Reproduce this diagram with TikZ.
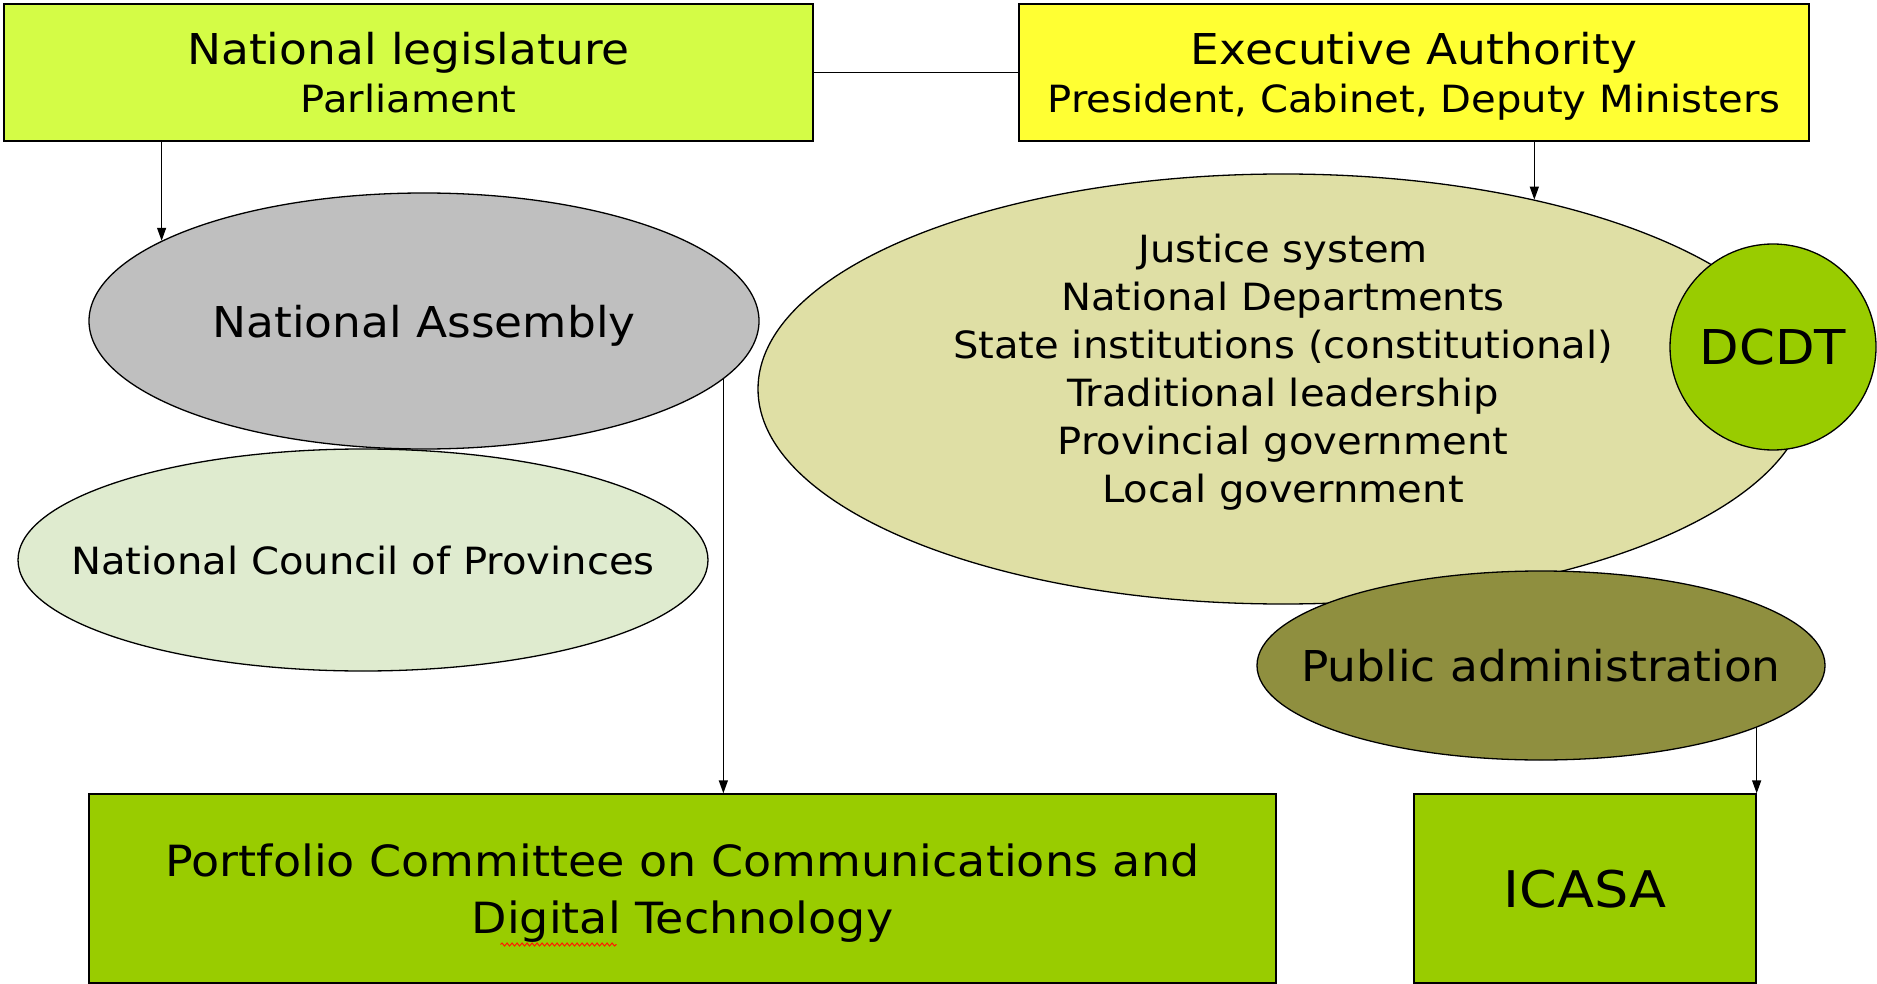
\documentclass[tikz,border=0pt]{standalone}
\usepackage{fontspec}
\setmainfont[FakeStretch=1.07]{DejaVu Sans}
\usetikzlibrary{arrows.meta,shapes.geometric,decorations.pathmorphing}

\definecolor{legislime}{HTML}{D4FC46}
\definecolor{execyellow}{HTML}{FFFF33}
\definecolor{assemblygrey}{HTML}{BFBFBF}
\definecolor{councilgreen}{HTML}{DFEBCF}
\definecolor{statekhaki}{HTML}{DFDFA5}
\definecolor{adminolive}{HTML}{8F8F3F}
\definecolor{bodygreen}{HTML}{99CC00}

\begin{document}
\begin{tikzpicture}[
  x=1pt, y=-1pt,
  box/.style={draw=black, line width=1.3pt, align=center, inner sep=0pt, text depth=0pt},
  blob/.style={ellipse, draw=black, line width=1.3pt, align=center,
               inner xsep=-160pt, inner ysep=0pt, text depth=0pt},
  arrow/.style={-{Triangle[length=13pt,width=9pt]}, line width=1.3pt}
]
  \useasboundingbox (0,0) rectangle (1877,984);

  % top row: the two branches of government
  \node[box, fill=legislime, minimum width=809pt, minimum height=137pt,
        font=\fontsize{42.5}{48}\selectfont] (legis) at (408.5,72.5)
    {National legislature\\{\fontsize{37.5}{48}\selectfont Parliament}};
  \node[box, fill=execyellow, minimum width=790pt, minimum height=137pt,
        font=\fontsize{42.5}{48}\selectfont] (exec) at (1414,72.5)
    {Executive Authority\\{\fontsize{37.5}{48}\selectfont President, Cabinet, Deputy Ministers}};
  \draw[line width=1.3pt] (legis) -- (exec);

  % parliament houses
  \node[blob, fill=assemblygrey, minimum width=670pt, minimum height=256pt,
        font=\fontsize{42.5}{48}\selectfont] (assembly) at (424,321) {National Assembly};
  \node[blob, fill=councilgreen, minimum width=690pt, minimum height=222pt,
        font=\fontsize{37.5}{48}\selectfont] (council) at (363,560) {National Council of Provinces};

  % executive side
  \node[blob, fill=statekhaki, minimum width=1050pt, minimum height=430pt] (state) at (1283,389) {};
  \node[align=center, text depth=0pt, font=\fontsize{37.5}{48}\selectfont] (statelist)
    at ([yshift=21pt]state.center)
    {Justice system\\National Departments\\State institutions (constitutional)\\
     Traditional leadership\\Provincial government\\Local government};
  \node[blob, circle, fill=bodygreen, minimum size=206pt,
        font=\fontsize{48}{56}\selectfont] (dcdt) at (1773,347) {DCDT};
  \node[blob, fill=adminolive, minimum width=568pt, minimum height=189pt,
        font=\fontsize{42.5}{48}\selectfont] (admin) at (1541,665.5) {Public administration};

  % bottom row
  \node[box, fill=bodygreen, minimum width=1187pt, minimum height=189pt,
        font=\fontsize{43}{57}\selectfont] (portfolio) at (682.5,888.5)
    {Portfolio Committee on Communications and\\Digital Technology};
  \node[box, fill=bodygreen, minimum width=342pt, minimum height=189pt,
        font=\fontsize{50.5}{56}\selectfont] (icasa) at (1585,888.5) {ICASA};

  % spell-check squiggle under "igital"
  \draw[red!80!orange, line width=1pt, decorate,
        decoration={snake, amplitude=1.5pt, segment length=5pt}]
    ([xshift=-182pt,yshift=-56pt]portfolio.center) -- ([xshift=-66pt,yshift=-56pt]portfolio.center);

  % arrows
  \draw[arrow] (assembly.163.7 |- legis.south) -- (assembly.163.7);
  \draw[arrow] (state.37.1 |- exec.south) -- (state.37.1);
  \draw[arrow] (assembly.-11) -- (assembly.-11 |- portfolio.north);
  \draw[arrow] (icasa.north east |- admin.-16) -- (icasa.north east);
\end{tikzpicture}
\end{document}
